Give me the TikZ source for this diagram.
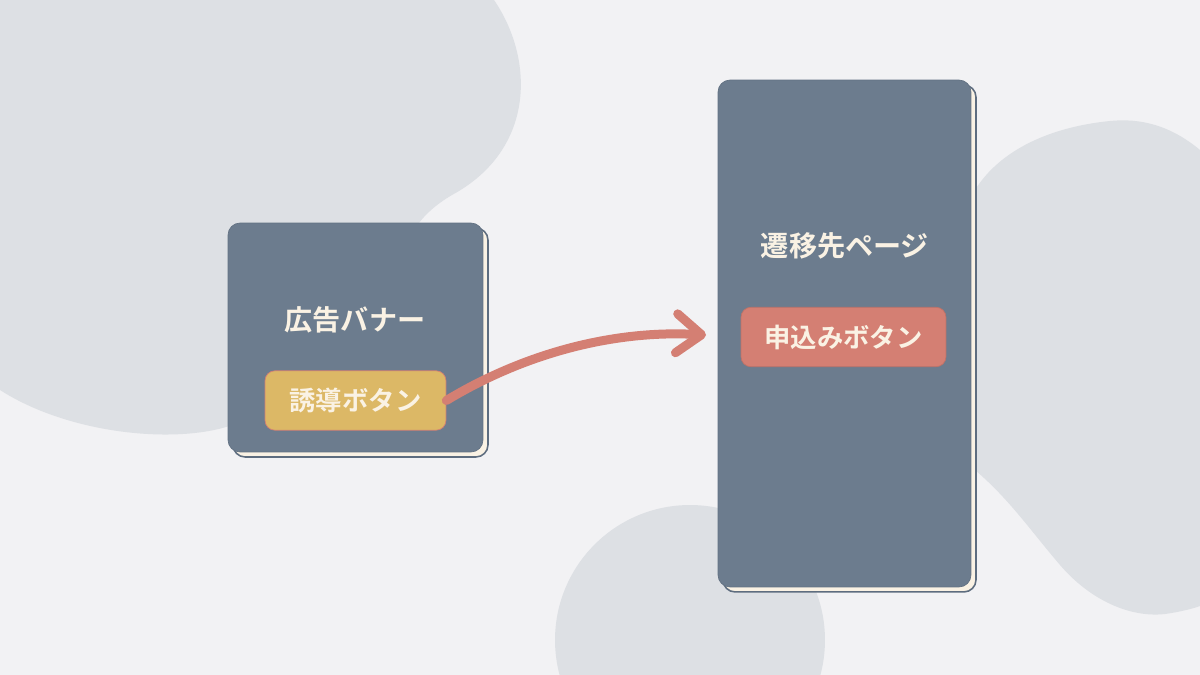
\documentclass[tikz,border=0pt]{standalone}
\usepackage{fontspec}
\newfontfamily\jpfont{Noto Sans CJK JP}[BoldFont={Noto Sans CJK JP Bold}]
\usetikzlibrary{arrows.meta}
\definecolor{bgcol}{HTML}{F2F2F4}
\definecolor{blobcol}{HTML}{DDE0E4}
\definecolor{cardcol}{HTML}{6C7C8E}
\definecolor{edgecol}{HTML}{5E6D7F}
\definecolor{creamcol}{HTML}{FAF2E4}
\definecolor{yellowcol}{HTML}{DCB866}
\definecolor{redcol}{HTML}{D47F73}
\begin{document}
\begin{tikzpicture}[x=0.02cm, y=-0.02cm,
		card/.style={rectangle, rounded corners=0.24cm, fill=cardcol, draw=cardcol!92!black, line width=0.4pt},
		backcard/.style={rectangle, rounded corners=0.24cm, fill=creamcol, draw=edgecol, line width=0.9pt},
		cardtitle/.style={text=creamcol, font=\jpfont\bfseries\fontsize{16}{19}\selectfont},
		btn/.style={rectangle, rounded corners=0.2cm, minimum height=1.19cm, text=creamcol, font=\jpfont\bfseries\fontsize{15}{18}\selectfont},
		arrowline/.style={draw=redcol, line width=0.18cm, line cap=round, -{Straight Barb[length=0.5cm, width=0.78cm, round]}}]
		% Background
		\fill[bgcol] (0,0) rectangle (1200,675);
		\begin{scope}
			\clip (0,0) rectangle (1200,675);
			\fill[blobcol] (0,0) -- (494,0) .. controls (535,60) and (535,150) .. (452,195) .. controls (435,205) and (425,215) .. (419,223) -- (235,424) .. controls (180,445) and (70,435) .. (0,390) -- cycle;
			\fill[blobcol] (1200,150) .. controls (1170,125) and (1140,118) .. (1110,121) .. controls (1050,127) and (1000,150) .. (975,190) -- (950,300) -- (975,470) .. controls (1010,500) and (1030,530) .. (1060,565) .. controls (1090,600) and (1130,618) .. (1165,614) .. controls (1180,612) and (1195,608) .. (1200,606) -- cycle;
			\fill[blobcol] (690,640) circle (2.7cm);
		\end{scope}
		
		% Nodes
		\node[backcard, minimum width=5.1cm, minimum height=4.58cm] (bannerback) at (360.5,342.5) {};
		\node[card, minimum width=5.1cm, minimum height=4.58cm] (banner) at (355.5,337.5) {};
		\node[cardtitle] (bannertitle) at (355,320) {広告バナー};
		\node[btn, fill=yellowcol, draw=redcol, minimum width=3.62cm] (lure) at (355.5,400.5) {誘導ボタン};
		
		\node[backcard, minimum width=5.06cm, minimum height=10.14cm] (pageback) at (849.5,338.5) {};
		\node[card, minimum width=5.06cm, minimum height=10.14cm] (page) at (844.5,333.5) {};
		\node[cardtitle] (pagetitle) at (845,246) {遷移先ページ};
		\node[btn, fill=redcol, draw=redcol!90!black, minimum width=4.1cm] (apply) at (843.5,337) {申込みボタン};
		
		% Edges
		\coordinate (tip) at (706,335);
		\draw[arrowline] (lure.east) .. controls (530,350) and (620,330) .. (tip);
	\end{tikzpicture}
\end{document}
